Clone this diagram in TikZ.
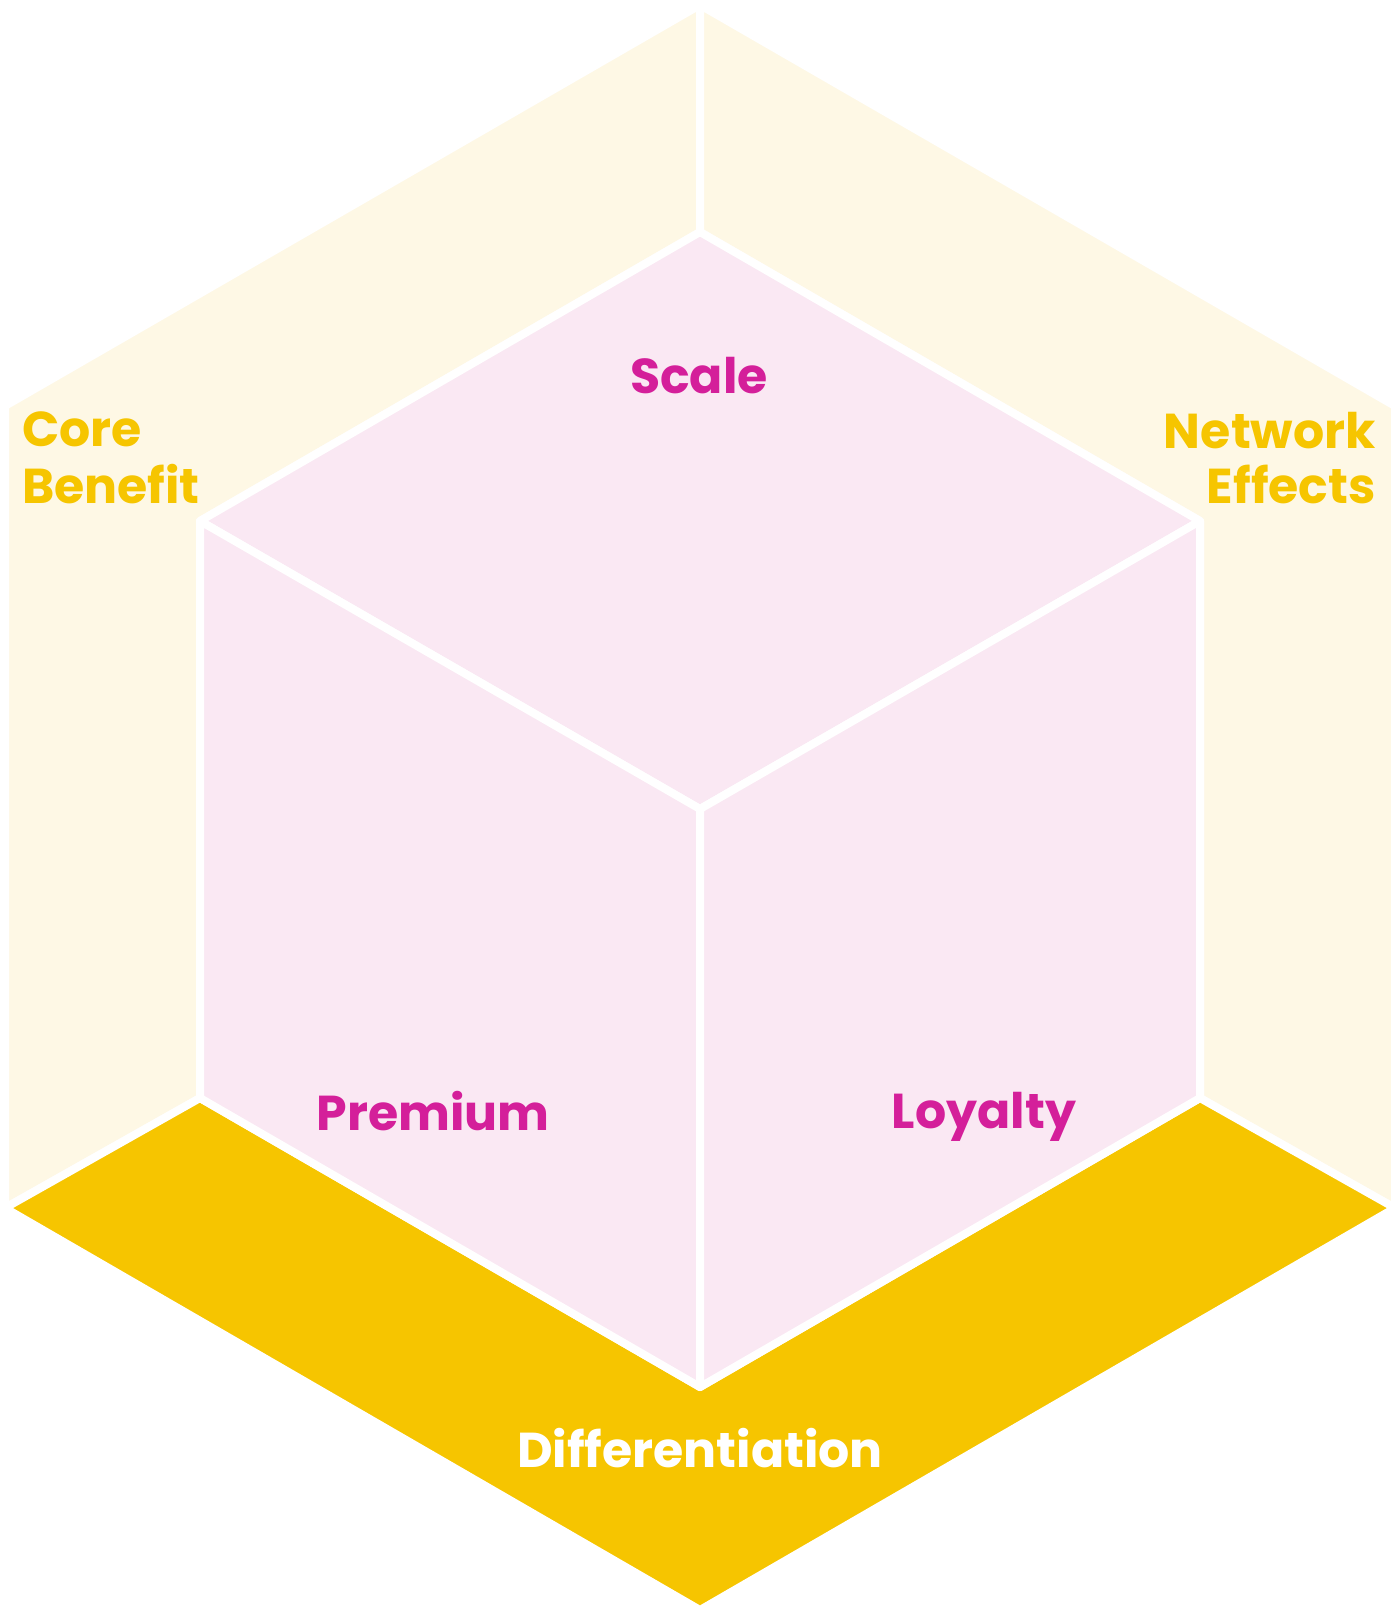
\documentclass[tikz,border=0pt]{standalone}
\usepackage{fontspec}
\setmainfont{Poppins}[BoldFont={* Bold}]
\definecolor{paleY}{HTML}{FEF8E5}
\definecolor{pinkF}{HTML}{FAE8F3}
\definecolor{goldY}{HTML}{F6C500}
\definecolor{magT}{HTML}{D41F9A}
\begin{document}
\begin{tikzpicture}[x=1pt,y=-1pt,
  region/.style={draw=white,line width=8pt,line join=round},
  lbl/.style={inner sep=0pt,font=\fontsize{49}{53}\selectfont\bfseries},
  sidelbl/.style={lbl,text=goldY},
  facelbl/.style={lbl,text=magT}]
\useasboundingbox (0,0) rectangle (1400,1615);
% outer hexagon
\coordinate (OT) at (700,5);
\coordinate (OUR) at (1395,406);
\coordinate (OLR) at (1395,1208);
\coordinate (OB) at (700,1610);
\coordinate (OLL) at (5,1208);
\coordinate (OUL) at (5,406);
% cube
\coordinate (CT) at (700,232);
\coordinate (CUR) at (1200,521);
\coordinate (CLR) at (1200,1098);
\coordinate (CB) at (700,1387);
\coordinate (CLL) at (200,1098);
\coordinate (CUL) at (200,521);
\coordinate (CC) at (700,809);
% outer regions
\filldraw[region,fill=paleY] (OUL) -- (OT) -- (CT) -- (CUL) -- (CLL) -- (OLL) -- cycle;
\filldraw[region,fill=paleY] (OUR) -- (OT) -- (CT) -- (CUR) -- (CLR) -- (OLR) -- cycle;
\filldraw[region,fill=goldY] (OLL) -- (OB) -- (OLR) -- (CLR) -- (CB) -- (CLL) -- cycle;
% cube faces
\filldraw[region,fill=pinkF] (CT) -- (CUR) -- (CC) -- (CUL) -- cycle;
\filldraw[region,fill=pinkF] (CUL) -- (CC) -- (CB) -- (CLL) -- cycle;
\filldraw[region,fill=pinkF] (CC) -- (CUR) -- (CLR) -- (CB) -- cycle;
% labels
\node[facelbl,anchor=base] (scale) at (699,393) {Scale};
\node[facelbl,anchor=base] (premium) at (433,1130) {Premium};
\node[facelbl,anchor=base] (loyalty) at (984,1128) {Loyalty};
\node[lbl,text=white,anchor=base] (diff) at (700,1467) {Differentiation};
\node[sidelbl,anchor=base west] (core1) at (22,446) {Core};
\node[sidelbl,anchor=base west] (core2) at (22,503) {Benefit};
\node[sidelbl,anchor=base east] (net1) at (1376,448) {Network};
\node[sidelbl,anchor=base east] (net2) at (1376,503) {Effects};
\end{tikzpicture}
\end{document}
